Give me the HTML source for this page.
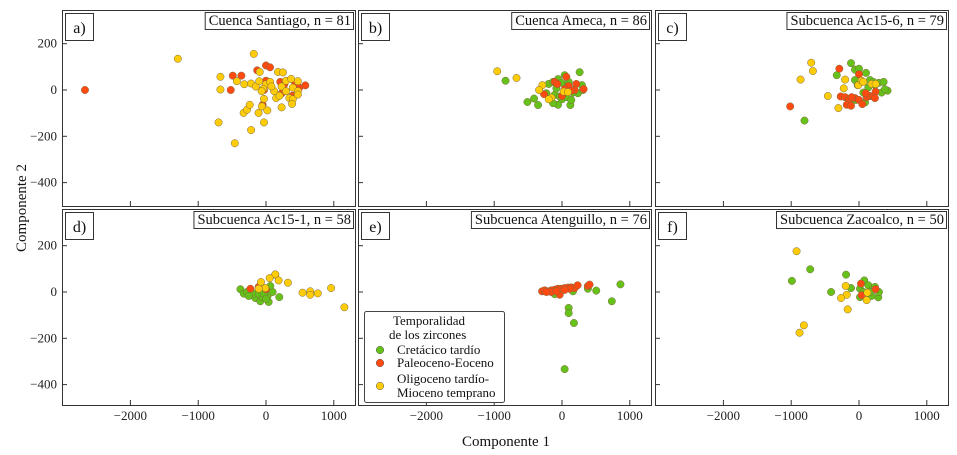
<!DOCTYPE html>
<html><head><meta charset="utf-8">
<style>
html,body{margin:0;padding:0;background:#fff;}
svg{display:block;font-family:"Liberation Serif",serif;}
</style></head>
<body>
<svg id="chart" width="957" height="455" viewBox="0 0 957 455" xmlns="http://www.w3.org/2000/svg"></svg>
<script>
// ---- data (Componente 1, Componente 2) ----
const xTicks = [-2000, -1000, 0, 1000];
const yTicks = [200, 0, -200, -400];
const panelIds = ["a","b","c","d","e","f"];
const panelTitles = ["Cuenca Santiago, n = 81","Cuenca Ameca, n = 86","Subcuenca Ac15-6, n = 79","Subcuenca Ac15-1, n = 58","Subcuenca Atenguillo, n = 76","Subcuenca Zacoalco, n = 50"];
const seriesNames = ["Cretácico tardío","Paleoceno-Eoceno","Oligoceno tardío-Mioceno temprano"];

// panel a
const aGreenX = [];
const aGreenY = [];
const aRedX = [-2670,0,60,-130,-490,-363,-520,-50,210,270,430,580,490,230,390,0,-30];
const aRedY = [0,106,98,85,62,62,0,-64,35,25,30,20,10,-15,-25,40,0];
const aYellowX = [-1300,-180,-93,176,250,-672,-672,-700,-460,-220,-30,-330,-280,-240,-110,-60,-30,20,230,-430,-320,-220,-150,-100,0,60,120,150,200,295,370,470,395,470,345,395,470,385,-40,80,230,295,-65];
const aYellowY = [135,156,78,78,76,57,2,-140,-230,-173,-140,-99,-85,-64,-99,-71,-38,-88,-75,38,25,28,15,38,25,35,-5,-35,-25,40,48,38,10,-5,-35,-40,-20,-60,5,15,15,-5,-5];
// panel b
const bGreenX = [-833,260,-510,-412,-353,-196,-132,-59,39,98,-59,123,-132,0,64,137,235,294,309,-108,-34,-230,162,64,-83,-10];
const bGreenY = [40,77,-52,-37,-65,26,35,47,64,35,-64,-65,-57,-40,-31,-43,-14,21,0,-21,-28,-14,-11,14,7,31];
const bRedX = [-265,-108,-69,64,0,98,211,186,319,137,39];
const bRedY = [-18,35,26,57,-26,17,26,0,4,-3,3];
const bYellowX = [-955,-671,-289,-338,-157,-196,25,88];
const bYellowY = [81,52,21,0,-33,-40,-7,-9];
// panel c
const cGreenX = [-118,-59,0,103,-328,-804,-59,-20,162,211,294,363,421,333,382,137,64,88,-49,235];
const cGreenY = [116,88,92,74,64,-132,43,21,43,35,31,35,-3,-11,3,11,-11,-54,-43,21];
const cRedX = [-290,-1015,0,-270,-205,-147,-181,-118,-59,0,49,113,162,211,245,235,98,-108];
const cRedY = [92,-71,68,-28,-31,-40,-64,-68,-35,-43,-61,-31,-26,-28,-7,-35,-14,-31];
const cYellowX = [-705,-680,-862,-460,-225,-205,-304,-10,39,186,245,64];
const cYellowY = [118,82,45,-26,7,45,-78,21,40,26,26,35];
// panel d
const dGreenX = [137,-377,-328,-279,-206,-157,-83,-59,39,25,98,196,-181,-108,-34,-255,0,64];
const dGreenY = [75,12,-7,0,-14,-26,-40,-22,-43,-17,0,-22,-7,-7,-7,-17,-29,26];
const dRedX = [-230,-108,0];
const dRedY = [14,22,12];
const dYellowX = [137,54,186,323,-74,-10,-108,539,652,652,764,960,1156];
const dYellowY = [76,60,50,40,43,17,14,-3,3,-12,-6,17,-66];
// panel e
const eGreenX = [862,505,735,98,98,176,39,-108,382,162];
const eGreenY = [33,6,-40,-69,-91,-134,-333,-9,14,3];
const eRedX = [-294,-255,-206,-157,-108,-59,-10,39,88,137,186,230,-34,-157,113,382,407,39,-83,-230];
const eRedY = [3,7,3,7,10,14,14,17,19,20,17,29,-12,0,14,26,32,9,3,0];
const eYellowX = [];
const eYellowY = [];
// panel f
const fGreenX = [-720,-990,-412,-191,-118,78,137,211,284,294,15,15,186,235,64,162];
const fGreenY = [98,48,0,75,17,50,29,14,-23,0,-22,14,-17,22,0,0];
const fRedX = [29,39,245];
const fRedY = [36,-14,12];
const fYellowX = [-921,-196,-181,-265,-167,-813,-877,123,113];
const fYellowY = [176,26,-12,-26,-75,-144,-176,-3,-35];

const panelData = {
  a:[[aGreenX,aGreenY],[aRedX,aRedY],[aYellowX,aYellowY]],
  b:[[bGreenX,bGreenY],[bRedX,bRedY],[bYellowX,bYellowY]],
  c:[[cGreenX,cGreenY],[cRedX,cRedY],[cYellowX,cYellowY]],
  d:[[dGreenX,dGreenY],[dRedX,dRedY],[dYellowX,dYellowY]],
  e:[[eGreenX,eGreenY],[eRedX,eRedY],[eYellowX,eYellowY]],
  f:[[fGreenX,fGreenY],[fRedX,fRedY],[fYellowX,fYellowY]]
};
const colors = ["#66c21a","#ff4a12","#ffcc0a"];

const NS = "http://www.w3.org/2000/svg";
const svg = document.getElementById("chart");
function mk(tag, attrs, parent){ const e=document.createElementNS(NS,tag); for(const k in attrs) e.setAttribute(k,attrs[k]); (parent||svg).appendChild(e); return e; }

const boxes = [[62,10],[358,10],[655,10],[62,209],[358,209],[655,209]];
const PW = 293, PH = 196;
const pxPerX = 67.8/1000, pxPerY = 46.3/200;
const zeroOffX = 204, zeroOffY = [80, 83];

panelIds.forEach((id, i) => {
  const [L, T] = boxes[i];
  const row = i < 3 ? 0 : 1;
  const xs = v => L + zeroOffX + v * pxPerX;
  const ys = v => T + zeroOffY[row] - v * pxPerY;
  const g = mk("g", {});
  
  
  const frame = mk("rect", {x:L+0.5, y:T+0.5, width:PW, height:PH, fill:"#fff", stroke:"#333", "stroke-width":1}, g);
  
  
  xTicks.forEach(t => {
    const x = xs(t);
    const tk = mk("line", {x1:x, x2:x, y1:T+PH, y2:T+PH-5, stroke:"#333"}, g);
    
    
    if (row === 1) {
      const lb = mk("text", {x:x, y:T+PH+15, "text-anchor":"middle", "font-size":13, fill:"#222"}, g);
      lb.textContent = t < 0 ? "\u2212" + Math.abs(t) : String(t);
      
      
    }
  });
  yTicks.forEach(t => {
    const y = ys(t);
    const tk = mk("line", {x1:L, x2:L+5, y1:y, y2:y, stroke:"#333"}, g);
    
    
    if (i % 3 === 0) {
      const lb = mk("text", {x:L-5, y:y+4, "text-anchor":"end", "font-size":13, fill:"#222"}, g);
      lb.textContent = t < 0 ? "\u2212" + Math.abs(t) : String(t);
      
      
    }
  });
  panelData[id].forEach((s, si) => {
    s[0].forEach((xv, k) => {
      const c = mk("circle", {cx:xs(xv), cy:ys(s[1][k]), r:3.7, fill:colors[si], stroke:"#7a6a3a", "stroke-width":0.5}, g);
      
      
    });
  });
  const lbox = mk("rect", {x:L+3.5, y:T+3.5, width:28, height:27, fill:"#fff", stroke:"#333"}, g);
  
  
  const lt = mk("text", {x:L+17.5, y:T+23, "text-anchor":"middle", "font-size":16, fill:"#111"}, g);
  lt.textContent = id + ")";
  
  
  const tt = mk("text", {x:L+PW-4, y:T+15, "text-anchor":"end", "font-size":14.5, fill:"#111"}, g);
  tt.textContent = panelTitles[i];
  
  
  const bb = tt.getBBox();
  const tb = mk("rect", {x:bb.x-3.5, y:T+2.5, width:bb.width+6, height:17, fill:"#fff", stroke:"#333"}, g);
  
  
  g.insertBefore(tb, tt);
});

// legend
const lg = mk("g", {});


const lr = mk("rect", {x:364.5, y:311.5, width:140, height:91, rx:2, fill:"#fff", stroke:"#444"}, lg);


[["Temporalidad",393,325],["de los zircones",389,339]].forEach(r => {
  const t = mk("text", {x:r[1], y:r[2], "font-size":13, fill:"#111"}, lg);
  t.textContent = r[0];
  
  
});
const legY = [350, 363, 386];
const legText = [["Cretácico tardío"],["Paleoceno-Eoceno"],["Oligoceno tardío-","Mioceno temprano"]];
seriesNames.forEach((n, i) => {
  const c = mk("circle", {cx:380, cy:legY[i], r:3.8, fill:colors[i], stroke:"#555", "stroke-width":0.5}, lg);
  
  
  legText[i].forEach((line, j) => {
    const t = mk("text", {x:397, y:(i<2?legY[i]+4:legY[i]-3+j*14), "font-size":13, fill:"#111"}, lg);
    t.textContent = line;
    
    
  });
});

const xt = mk("text", {x:506, y:446, "text-anchor":"middle", "font-size":15, fill:"#111"});
xt.textContent = "Componente 1";


const yt = mk("text", {x:0, y:0, "text-anchor":"middle", "font-size":15, fill:"#111", transform:"translate(26,208) rotate(-90)"});
yt.textContent = "Componente 2";


</script>
</body></html>
